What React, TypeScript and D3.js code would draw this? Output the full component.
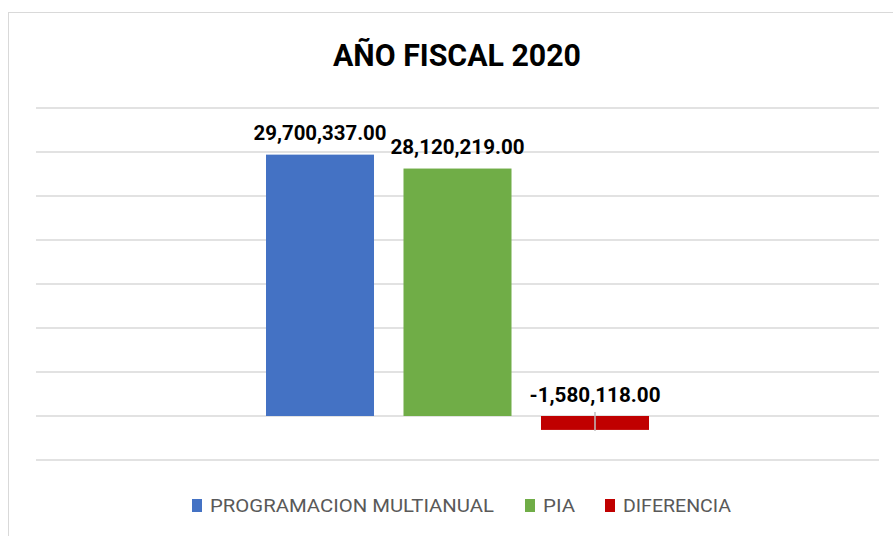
import React from "react";
import * as d3 from "d3";

const title = "AÑO FISCAL 2020";
const seriesNames = ["PROGRAMACION MULTIANUAL", "PIA", "DIFERENCIA"];
const seriesValues = [29700337.0, 28120219.0, -1580118.0];
const seriesColors = ["#4472C4", "#70AD47", "#C00000"];
const yDomain = [-5000000, 35000000];

const W = 893;
const H = 536;

export default function App() {
  const y = d3.scaleLinear().domain(yDomain).range([460, 108]);
  const x = d3
    .scaleBand<string>()
    .domain(seriesNames)
    .range([266, 649])
    .paddingInner(0.2145)
    .paddingOuter(0);
  const ticks = y.ticks(8);
  const locale = d3.formatLocale({
    decimal: ".",
    thousands: ",",
    grouping: [3],
    currency: ["", ""],
    minus: "-",
  });
  const fmt = locale.format(",.2f");
  const font = "Roboto, 'Open Sans', sans-serif";
  const labelWidths = [133, 134, 131];
  const legendX = [192, 525, 605];
  const legendTextW = [284, 32, 108];

  return (
    <svg
      width={W}
      height={H}
      style={{ position: "absolute", left: 0, top: 0, background: "#fff" }}
    >
      <rect x={0} y={0} width={W} height={H} fill="#fff" />
      <rect
        x={8.5}
        y={12.5}
        width={W + 20}
        height={H + 20}
        fill="none"
        stroke="#D9D9D9"
        strokeWidth={1}
      />
      <text
        x={457}
        y={66}
        textAnchor="middle"
        fontFamily={font}
        fontWeight="bold"
        fontSize={31}
        fill="#000"
        textLength={248}
        lengthAdjust="spacingAndGlyphs"
      >
        {title}
      </text>
      {ticks.map((t) => (
        <line
          key={t}
          x1={36}
          x2={879}
          y1={y(t)}
          y2={y(t)}
          stroke="#D9D9D9"
          strokeWidth={1.5}
        />
      ))}
      {seriesNames.map((s, i) => {
        const v = seriesValues[i];
        const y0 = y(0);
        const yv = y(v);
        return (
          <rect
            key={s}
            x={x(s)}
            y={Math.min(y0, yv)}
            width={x.bandwidth()}
            height={Math.abs(yv - y0)}
            fill={seriesColors[i]}
          />
        );
      })}
      {seriesNames.map((s, i) => {
        const v = seriesValues[i];
        if (v >= 0) return null;
        const cx = (x(s) as number) + x.bandwidth() / 2;
        return (
          <line
            key={"tk" + s}
            x1={cx}
            x2={cx}
            y1={y(0) - 4}
            y2={y(v) + 1}
            stroke="#BFBFBF"
            strokeWidth={1.5}
          />
        );
      })}
      {seriesNames.map((s, i) => {
        const v = seriesValues[i];
        const cx = (x(s) as number) + x.bandwidth() / 2;
        return (
          <text
            key={"l" + s}
            x={cx}
            y={y(Math.max(0, v)) - 14.5}
            textAnchor="middle"
            fontFamily={font}
            fontWeight="bold"
            fontSize={20.5}
            fill="#000"
            textLength={labelWidths[i]}
            lengthAdjust="spacingAndGlyphs"
          >
            {fmt(v)}
          </text>
        );
      })}
      {seriesNames.map((s, i) => (
        <g key={"lg" + s}>
          <rect
            x={legendX[i]}
            y={499}
            width={10}
            height={13}
            fill={seriesColors[i]}
          />
          <text
            x={legendX[i] + 18}
            y={512}
            fontFamily={font}
            fontSize={18}
            fill="#595959"
            textLength={legendTextW[i]}
            lengthAdjust="spacingAndGlyphs"
          >
            {s}
          </text>
        </g>
      ))}
    </svg>
  );
}
